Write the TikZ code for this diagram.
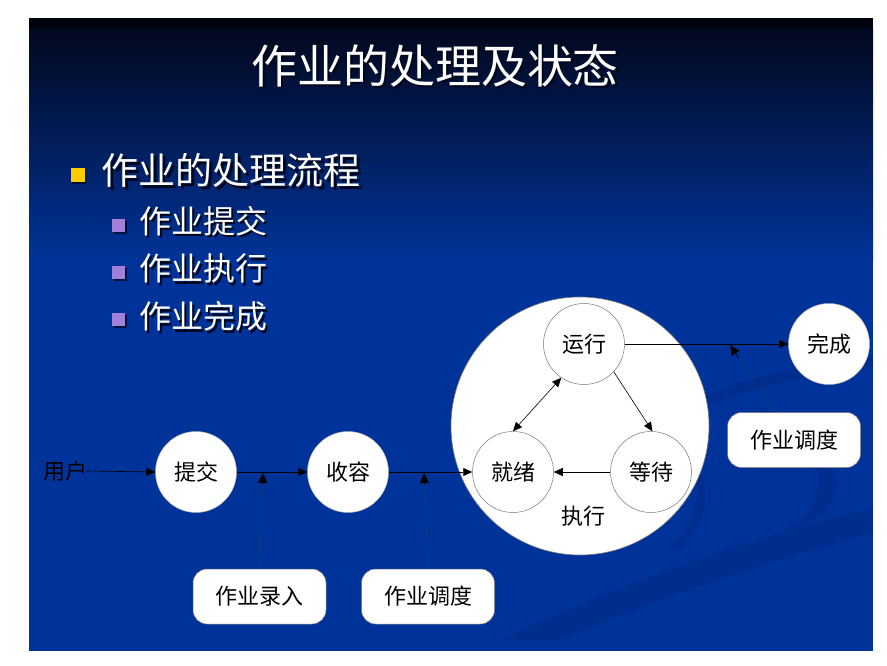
\documentclass[tikz,border=0pt]{standalone}
\usepackage{fontspec}
\newfontfamily\cjk{Noto Sans CJK SC}
\usetikzlibrary{arrows.meta}

\definecolor{slideblue}{RGB}{0,51,153}
\definecolor{slidetop}{RGB}{2,8,30}
\definecolor{slideedge}{RGB}{0,2,16}
\definecolor{swooshblue}{RGB}{0,30,110}
\definecolor{bulletgold}{RGB}{255,204,0}
\definecolor{bulletlilac}{RGB}{160,128,216}
\definecolor{rimgray}{RGB}{120,120,120}
\definecolor{textshade}{RGB}{0,6,28}

% white text with a dark drop shadow behind it
\newcommand{\shadowed}[1]{\rlap{\raisebox{-2.5pt}{\hspace{2.5pt}\textcolor{textshade}{#1}}}#1}

\tikzset{
  headline/.style={text=white, inner sep=0pt, font=\cjk\fontsize{46}{46}\selectfont},
  toplevel/.style={text=white, inner sep=0pt, font=\cjk\fontsize{37}{37}\selectfont},
  sublevel/.style={text=white, inner sep=0pt, font=\cjk\fontsize{32}{32}\selectfont},
  goldmark/.style={fill=bulletgold, minimum size=14pt, inner sep=0pt},
  lilacmark/.style={fill=bulletlilac, minimum size=13pt, inner sep=0pt},
  markshade/.style={fill=textshade, opacity=0.7},
  state/.style={circle, draw=rimgray, line width=0.5pt, fill=white, minimum size=81pt,
    inner sep=0pt, font=\cjk\fontsize{22}{22}\selectfont},
  outerstate/.style={state, draw=rimgray!60},
  bigstate/.style={circle, draw=rimgray, line width=0.6pt, fill=white, minimum size=258pt, inner sep=0pt},
  note/.style={rectangle, rounded corners=14pt, draw=rimgray, line width=0.5pt, fill=white,
    minimum width=133pt, minimum height=55pt, inner sep=0pt, font=\cjk\fontsize{22}{22}\selectfont},
  plain/.style={inner sep=0pt, font=\cjk\fontsize{22}{22}\selectfont},
  flow/.style={-{Triangle[length=9pt,width=8pt]}, line width=0.6pt, black},
  twoway/.style={{Triangle[length=9pt,width=8pt]}-{Triangle[length=9pt,width=8pt]}, line width=0.6pt, black},
  cue/.style={densely dotted, line width=0.6pt, black!75},
  cuehead/.style={-{Triangle[length=10pt,width=9pt]}, line width=0.6pt, black},
  swoosh/.style={fill=swooshblue, opacity=0.25},
}

\begin{document}
\begin{tikzpicture}[x=1pt, y=-1pt]
\useasboundingbox (0,0) rectangle (887,666);
\fill[white] (0,0) rectangle (887,666);

% slide background: dark top fading into blue
\fill[slideblue] (29,18) rectangle (873,651);
\shade[top color=slidetop, bottom color=slideblue] (29,28) rectangle (873,260);
\fill[slideedge] (29,18) rectangle (873,28);

% decorative swooshes on the right
\fill[swoosh] (873,508) .. controls (760,535) and (640,575) .. (500,640)
  -- (560,640) .. controls (680,590) and (780,558) .. (873,533) -- cycle;
\fill[swoosh] (700,398) .. controls (760,372) and (820,362) .. (873,356)
  -- (873,368) .. controls (820,374) and (760,384) .. (700,408) -- cycle;
\fill[swoosh] (740,402) .. controls (815,420) and (850,470) .. (830,505)
  .. controls (820,520) and (800,528) .. (780,532)
  .. controls (805,520) and (822,500) .. (818,475)
  .. controls (812,440) and (780,415) .. (740,402) -- cycle;
\fill[swoosh] (690,455) .. controls (712,480) and (712,520) .. (680,548)
  -- (670,548) .. controls (700,520) and (702,485) .. (690,455) -- cycle;

% title
\node[headline] (title) at (435,67) {\shadowed{作业的处理及状态}};

% bullet list
\fill[markshade] (72,170) rectangle (86,184);
\node[goldmark] (markA) at (77.5,175.5) {};
\node[toplevel] (itemA) at (231,172) {\shadowed{作业的处理流程}};

\fill[markshade] (114,221) rectangle (127,234);
\node[lilacmark] (markB) at (118.5,225.5) {};
\node[sublevel] (itemB) at (203,222) {\shadowed{作业提交}};

\fill[markshade] (114,268) rectangle (127,281);
\node[lilacmark] (markC) at (118.5,272.5) {};
\node[sublevel] (itemC) at (203,270) {\shadowed{作业执行}};

\fill[markshade] (114,315) rectangle (127,328);
\node[lilacmark] (markD) at (118.5,319.5) {};
\node[sublevel] (itemD) at (203,318) {\shadowed{作业完成}};

% execution stage
\node[bigstate] (exec) at (580,426) {};
\node[plain] (execlabel) at (583,516) {执行};
\node[state] (run) at (584,344) {运行};
\node[state] (ready) at (513,472) {就绪};
\node[state] (wait) at (651,472) {等待};

% other stages
\node[plain] (user) at (65,471) {用户};
\node[outerstate] (submit) at (196,472) {提交};
\node[outerstate] (hold) at (348,472) {收容};
\node[outerstate] (done) at (829,344) {完成};

% helper boxes
\node[note] (entry) at (259.5,596.5) {作业录入};
\node[note] (schedA) at (428,596.5) {作业调度};
\node[note] (schedB) at (794,440) {作业调度};

% flow of a job
\draw[flow] (user.east) -- (submit.west);
\draw[flow] (submit) -- (hold);
\draw[flow] (hold) -- (ready);
\draw[flow] (run) -- (done);
\draw[flow] (wait) -- (ready);
\draw[flow] (run.-43) -- (wait.88);
\draw[twoway] (run.-124) -- (ready.90);

% dotted hints pointing at the transitions
\coordinate (tipA) at (263,473);
\coordinate (tipB) at (424,473);
\coordinate (tipC) at (730,345);
\coordinate (cueC) at ([xshift=-19pt]schedB.north);
\path (entry.north) -- (tipA) coordinate[pos=0.88] (baseA);
\path (schedA.north) -- (tipB) coordinate[pos=0.88] (baseB);
\path (cueC) -- (tipC) coordinate[pos=0.8] (baseC);
\draw[cue] (entry.north) -- (baseA);
\draw[cue] (schedA.north) -- (baseB);
\draw[cue] (cueC) -- (baseC);
\draw[cuehead] (baseA) -- (tipA);
\draw[cuehead] (baseB) -- (tipB);
\draw[cuehead] (baseC) -- (tipC);
\end{tikzpicture}
\end{document}
